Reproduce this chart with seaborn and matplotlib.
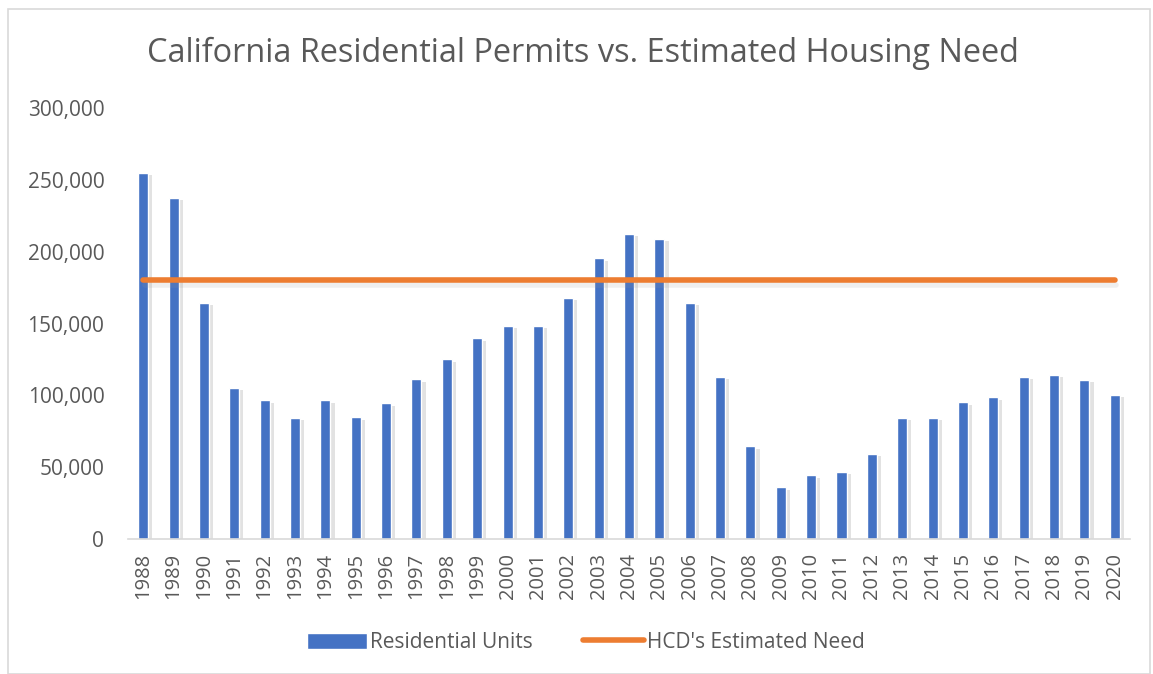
import numpy as np
import pandas as pd
import matplotlib
matplotlib.use('Agg')
import matplotlib.pyplot as plt
import matplotlib.patheffects as pe
from matplotlib.lines import Line2D
from matplotlib.patches import Patch, Rectangle
import seaborn as sns

years = [1988, 1989, 1990, 1991, 1992, 1993, 1994, 1995, 1996, 1997, 1998,
         1999, 2000, 2001, 2002, 2003, 2004, 2005, 2006, 2007, 2008, 2009,
         2010, 2011, 2012, 2013, 2014, 2015, 2016, 2017, 2018, 2019, 2020]
units = [255000, 237500, 164500, 105500, 97000, 84500, 97000, 85000, 94500,
         111500, 125500, 140000, 148500, 148500, 168000, 195500, 212500, 209000,
         164500, 113000, 65000, 36000, 44500, 47000, 59500, 84500, 84500,
         95500, 99000, 113000, 114500, 111000, 100500]
need = [180000, 180000, 180000, 180000, 180000, 180000, 180000, 180000, 180000,
        180000, 180000, 180000, 180000, 180000, 180000, 180000, 180000, 180000,
        180000, 180000, 180000, 180000, 180000, 180000, 180000, 180000, 180000,
        180000, 180000, 180000, 180000, 180000, 180000]

df = pd.DataFrame({'year': [str(y) for y in years], 'units': units, 'need': need})

sns.set_style('white')
plt.rcParams['font.family'] = ['Open Sans', 'DejaVu Sans']
txt = '#595959'

fig = plt.figure(figsize=(11.53, 6.74), dpi=100)
ax = fig.add_axes([0.111, 0.200, 0.869, 0.640])

sns.barplot(data=df, x='year', y='units', color='#4472C4', width=0.33,
            saturation=1, ax=ax, zorder=2)
for bar in ax.patches:
    bar.set_path_effects([pe.SimplePatchShadow(offset=(3, -2), shadow_rgbFace='#7f7f7f', alpha=0.22),
                          pe.Normal()])

ax.plot(np.arange(len(years)), df['need'], color='#ED7D31', lw=4, solid_capstyle='round', zorder=3,
        path_effects=[pe.SimpleLineShadow(offset=(1, -3), shadow_color='#9a9a9a', alpha=0.15), pe.Normal()])

ax.set_ylim(0, 300000)
ax.set_xlim(-0.5, len(years) - 0.5)
ax.set_yticks([0, 50000, 100000, 150000, 200000, 250000, 300000])
ax.set_yticklabels(['0', '50,000', '100,000', '150,000', '200,000', '250,000', '300,000'])
ax.tick_params(axis='y', length=0, labelsize=15, labelcolor=txt, pad=17)
ax.tick_params(axis='x', length=0, labelsize=14.5, labelcolor=txt, rotation=90, pad=10)
ax.set_xlabel('')
ax.set_ylabel('')
for s in ['top', 'right', 'left']:
    ax.spines[s].set_visible(False)
ax.spines['bottom'].set_color('#D9D9D9')
ax.spines['bottom'].set_linewidth(1.2)

fig.text(0.506, 0.921, 'California Residential Permits vs. Estimated Housing Need',
         ha='center', va='center', fontsize=23.4, color=txt)

handles = [Patch(facecolor='#4472C4', label='Residential Units'),
           Line2D([0], [0], color='#ED7D31', lw=4, solid_capstyle='round', label="HCD's Estimated Need")]
fig.legend(handles=handles, loc='center', bbox_to_anchor=(0.508, 0.047), ncol=2, frameon=False,
           fontsize=15, labelcolor=txt, handlelength=2.9, handletextpad=0.15, columnspacing=2.4,
           handleheight=0.8)

fig.patches.append(Rectangle((0.007, 0.0), 0.99, 0.987, transform=fig.transFigure,
                             fill=False, edgecolor='#D9D9D9', lw=1.2))

fig.savefig('out.png', dpi=100)
